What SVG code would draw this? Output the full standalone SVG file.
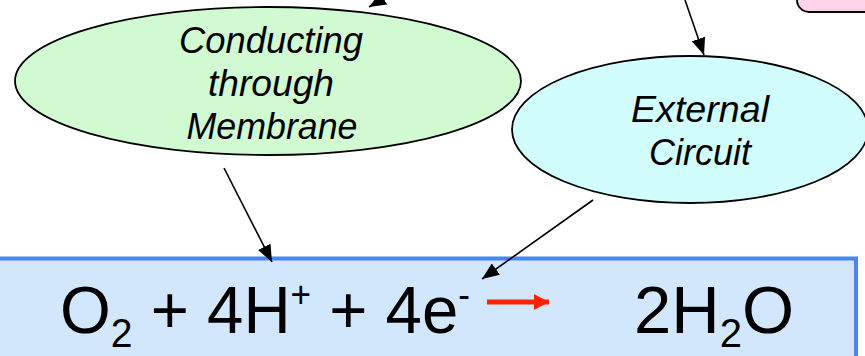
<svg xmlns="http://www.w3.org/2000/svg" width="865" height="356" viewBox="0 0 865 356">
<style>
.lbl{font-family:"Liberation Sans",Arial,sans-serif;font-style:italic;font-size:37px;fill:#000;text-anchor:middle}
.eq{font-family:"Liberation Sans",Arial,sans-serif;font-size:67px;fill:#000}
.node{stroke:#000;stroke-width:1.8}
.conn{stroke:#000;stroke-width:1.6;fill:none;marker-end:url(#ah)}
</style>
<defs>
<marker id="ah" markerUnits="userSpaceOnUse" markerWidth="18" markerHeight="14" refX="17" refY="7" orient="auto">
<path d="M0,0 L17,7 L0,14 z" fill="#000"/>
</marker>
<marker id="rh" markerUnits="userSpaceOnUse" markerWidth="16" markerHeight="16" refX="15" refY="8" orient="auto">
<path d="M0,0 L15,8 L0,16 z" fill="#ff2200"/>
</marker>
</defs>
<g id="pink-node">
<rect class="node" x="797" y="-20" width="90" height="32" rx="12" fill="#ffd3ea"/>
</g>
<g id="membrane">
<ellipse class="node" cx="268" cy="81" rx="253" ry="74" fill="#d2fad2"/>
<text class="lbl" x="271" y="53" textLength="184" lengthAdjust="spacingAndGlyphs">Conducting</text>
<text class="lbl" x="271" y="96" textLength="126" lengthAdjust="spacingAndGlyphs">through</text>
<text class="lbl" x="272" y="139" textLength="171" lengthAdjust="spacingAndGlyphs">Membrane</text>
</g>
<g id="external">
<ellipse class="node" cx="690" cy="129.5" rx="178" ry="73.5" fill="#d2fdfd"/>
<text class="lbl" x="700" y="122" textLength="138" lengthAdjust="spacingAndGlyphs">External</text>
<text class="lbl" x="700" y="165" textLength="102" lengthAdjust="spacingAndGlyphs">Circuit</text>
</g>
<g id="reaction">
<rect x="-3" y="258.5" width="859" height="110" fill="#d3e7fc" stroke="#4a86f2" stroke-width="4"/>
<text class="eq" x="60" y="333" textLength="410" lengthAdjust="spacingAndGlyphs">O<tspan font-size="40" dy="14">2</tspan><tspan dy="-14"> + 4H</tspan><tspan font-size="36" dy="-26">+</tspan><tspan dy="26"> + 4e</tspan><tspan font-size="36" dy="-26">-</tspan></text>
<text class="eq" x="634" y="333">2H<tspan font-size="40" dy="14">2</tspan><tspan dy="-14">O</tspan></text>
<path d="M487,302 L549,302" stroke="#ff2200" stroke-width="5" fill="none" marker-end="url(#rh)"/>
</g>
<g id="connectors">
<path class="conn" d="M395,-8 L369,7"/>
<path class="conn" d="M685,0 L704,55"/>
<path class="conn" d="M224,168 L272,262"/>
<path class="conn" d="M593,200 L482,279"/>
</g>
</svg>
